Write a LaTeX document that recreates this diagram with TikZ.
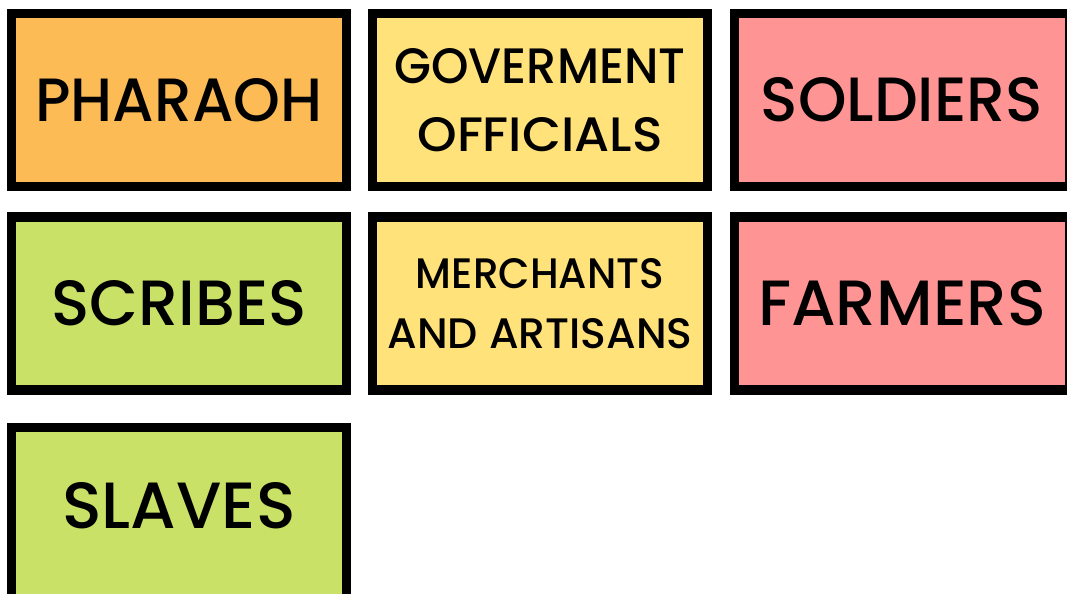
\documentclass[tikz,border=0pt]{standalone}
\usepackage{fontspec}
\setmainfont{Poppins}[UprightFont=* Medium]
\usepackage{graphicx}
\newlength\pxu
\setlength\pxu{0.75pt}
\newcommand\fitline[3]{\resizebox{#1\pxu}{#2\pxu}{#3}}
\newcommand\twostack[3]{\vbox{\offinterlineskip\halign{\hfil##\hfil\cr#1\cr\noalign{\vskip#2\pxu}#3\cr}}}
\definecolor{cOrange}{RGB}{253,187,85}
\definecolor{cYellow}{RGB}{255,226,122}
\definecolor{cPink}{RGB}{255,148,148}
\definecolor{cGreen}{RGB}{201,225,102}
\begin{document}
\begin{tikzpicture}[x=0.75pt,y=-0.75pt,
  card/.style={draw=black, line width=7.1pt, rectangle, inner sep=0pt,
    minimum width=250.9pt, minimum height=130pt}]
\useasboundingbox (0,0) rectangle (1067,593);
\clip (0,0) rectangle (1067,593);
\node[card, fill=cOrange] (pharaoh) at (179,100) {\fitline{287}{43}{PHARAOH}};
\node[card, fill=cYellow] (officials) at (540,100)
  {\twostack{\fitline{291}{35}{GOVERMENT}}{33}{\fitline{245}{34}{OFFICIALS}}};
\node[card, fill=cPink] (soldiers) at (902,100) {\fitline{282}{44}{SOLDIERS}};
\node[card, fill=cGreen] (scribes) at (179,303.5) {\fitline{255}{45}{SCRIBES}};
\node[card, fill=cYellow] (merchants) at (540,303.5)
  {\twostack{\fitline{248}{30}{MERCHANTS}}{29}{\fitline{305}{30}{AND ARTISANS}}};
\node[card, fill=cPink] (farmers) at (902,303.5) {\fitline{288}{45}{FARMERS}};
\node[card, fill=cGreen] (slaves) at (179,514) {\raisebox{18\pxu}{\fitline{233}{46}{SLAVES}}};
\end{tikzpicture}
\end{document}
